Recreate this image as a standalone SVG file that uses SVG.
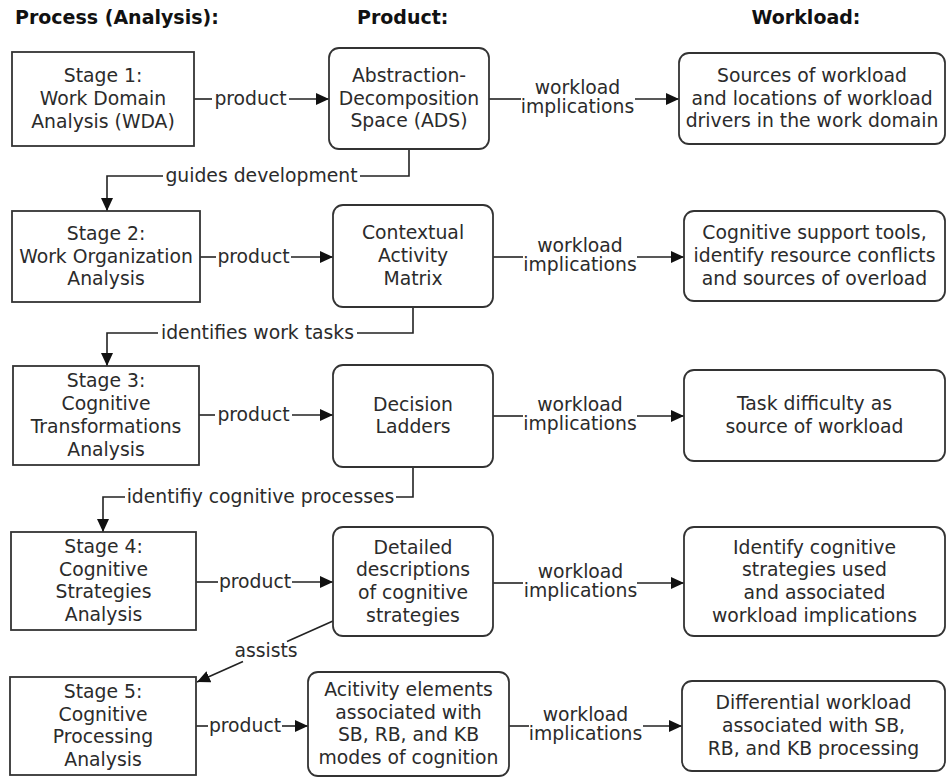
<svg xmlns="http://www.w3.org/2000/svg" width="948" height="777" viewBox="0 0 948 777">
<style>
text{font-family:"DejaVu Sans","Verdana",sans-serif;font-size:18.8px;fill:#2b2b2b}
.h{font-weight:bold;font-size:19px;fill:#111}
.c{text-anchor:middle}
.box{fill:#fff;stroke:#333;stroke-width:1.8}
.ln{fill:none;stroke:#222;stroke-width:1.6}
.ar{marker-end:url(#ah)}
</style>
<defs>
<marker id="ah" markerUnits="userSpaceOnUse" markerWidth="14" markerHeight="13" refX="13" refY="6.5" orient="auto">
<path d="M0,0.5 L13,6.5 L0,12.5 z" fill="#111"/>
</marker>
</defs>
<rect width="948" height="777" fill="#fff"/>
<g id="headers">
<text class="h" x="15" y="24">Process (Analysis):</text>
<text class="h" x="357" y="24">Product:</text>
<text class="h c" x="806" y="24">Workload:</text>
</g>
<g id="connectors">
<path class="ln" d="M194,99 H212"/><path class="ln ar" d="M289,99 H329"/>
<text class="c" x="250.5" y="105">product</text>
<path class="ln" d="M200,257 H216"/><path class="ln ar" d="M291,257 H333"/>
<text class="c" x="253.5" y="263">product</text>
<path class="ln" d="M199,415 H215"/><path class="ln ar" d="M292,415 H333"/>
<text class="c" x="253.5" y="421">product</text>
<path class="ln" d="M196,582 H218"/><path class="ln ar" d="M292,582 H333"/>
<text class="c" x="255" y="588">product</text>
<path class="ln" d="M196,726 H208"/><path class="ln ar" d="M282,726 H308"/>
<text class="c" x="245" y="732">product</text>
<path class="ln" d="M489,99 H521"/><path class="ln ar" d="M635,99 H679"/>
<text class="c" x="577.5" y="94">workload</text><text class="c" x="577.5" y="113">implications</text>
<path class="ln" d="M493,257 H523"/><path class="ln ar" d="M637,257 H684"/>
<text class="c" x="580" y="252">workload</text><text class="c" x="580" y="271">implications</text>
<path class="ln" d="M493,416 H523"/><path class="ln ar" d="M637,416 H684"/>
<text class="c" x="580" y="411">workload</text><text class="c" x="580" y="430">implications</text>
<path class="ln" d="M493,583 H523"/><path class="ln ar" d="M637,583 H684"/>
<text class="c" x="580.5" y="578">workload</text><text class="c" x="580.5" y="597">implications</text>
<path class="ln" d="M509,726 H529"/><path class="ln ar" d="M643,726 H682"/>
<text class="c" x="585.5" y="721">workload</text><text class="c" x="585.5" y="740">implications</text>
<path class="ln" d="M409,149 V176 H360"/><path class="ln ar" d="M163,176 H107 V211"/>
<text class="c" x="261.5" y="182">guides development</text>
<path class="ln" d="M413,307 V333 H357"/><path class="ln ar" d="M158,333 H107 V366"/>
<text class="c" x="257.5" y="339">identifies work tasks</text>
<path class="ln" d="M413,467 V497 H396"/><path class="ln ar" d="M125,497 H103 V532"/>
<text class="c" x="260.5" y="503">identifiy cognitive processes</text>
<path class="ln" d="M333,621 L287,641.6"/><path class="ln ar" d="M243,661.4 L197,682"/>
<text class="c" x="266" y="657">assists</text>
</g>
<g id="stage1"><rect class="box" x="12" y="52" width="182" height="94"/>
<text class="c" x="103" y="82.3">Stage 1:</text><text class="c" x="103" y="105">Work Domain</text><text class="c" x="103" y="127.7">Analysis (WDA)</text></g>
<g id="stage2"><rect class="box" x="12" y="211" width="188" height="91"/>
<text class="c" x="106" y="239.8">Stage 2:</text><text class="c" x="106" y="262.5">Work Organization</text><text class="c" x="106" y="285.2">Analysis</text></g>
<g id="stage3"><rect class="box" x="13" y="366" width="186" height="99"/>
<text class="c" x="106" y="387.4">Stage 3:</text><text class="c" x="106" y="410.1">Cognitive</text><text class="c" x="106" y="432.8">Transformations</text><text class="c" x="106" y="455.5">Analysis</text></g>
<g id="stage4"><rect class="box" x="11" y="532" width="185" height="98"/>
<text class="c" x="103.5" y="553">Stage 4:</text><text class="c" x="103.5" y="575.7">Cognitive</text><text class="c" x="103.5" y="598.4">Strategies</text><text class="c" x="103.5" y="621">Analysis</text></g>
<g id="stage5"><rect class="box" x="10" y="677" width="186" height="98"/>
<text class="c" x="103" y="698">Stage 5:</text><text class="c" x="103" y="720.7">Cognitive</text><text class="c" x="103" y="743.4">Processing</text><text class="c" x="103" y="766">Analysis</text></g>
<g id="ads"><rect class="box" x="329" y="48" width="160" height="101" rx="10"/>
<text class="c" x="409" y="81.8">Abstraction-</text><text class="c" x="409" y="104.5">Decomposition</text><text class="c" x="409" y="127.2">Space (ADS)</text></g>
<g id="cam"><rect class="box" x="333" y="205" width="160" height="102" rx="10"/>
<text class="c" x="413" y="239.3">Contextual</text><text class="c" x="413" y="262">Activity</text><text class="c" x="413" y="284.7">Matrix</text></g>
<g id="dl"><rect class="box" x="333" y="365" width="160" height="102" rx="10"/>
<text class="c" x="413" y="410.6">Decision</text><text class="c" x="413" y="433.4">Ladders</text></g>
<g id="dd"><rect class="box" x="333" y="527" width="160" height="109" rx="10"/>
<text class="c" x="413" y="553.5">Detailed</text><text class="c" x="413" y="576.2">descriptions</text><text class="c" x="413" y="598.9">of cognitive</text><text class="c" x="413" y="621.6">strategies</text></g>
<g id="ae"><rect class="box" x="308" y="672" width="201" height="104" rx="10"/>
<text class="c" x="408.5" y="696">Acitivity elements</text><text class="c" x="408.5" y="718.7">associated with</text><text class="c" x="408.5" y="741.4">SB, RB, and KB</text><text class="c" x="408.5" y="764">modes of cognition</text></g>
<g id="w1"><rect class="box" x="679" y="53" width="266" height="91" rx="10"/>
<text class="c" x="812" y="81.8">Sources of workload</text><text class="c" x="812" y="104.5">and locations of workload</text><text class="c" x="812" y="127.2">drivers in the work domain</text></g>
<g id="w2"><rect class="box" x="684" y="211" width="261" height="90" rx="10"/>
<text class="c" x="814.5" y="239.3">Cognitive support tools,</text><text class="c" x="814.5" y="262">identify resource conflicts</text><text class="c" x="814.5" y="284.7">and sources of overload</text></g>
<g id="w3"><rect class="box" x="684" y="370" width="261" height="91" rx="10"/>
<text class="c" x="814.5" y="410.2">Task difficulty as</text><text class="c" x="814.5" y="432.9">source of workload</text></g>
<g id="w4"><rect class="box" x="684" y="527" width="261" height="109" rx="10"/>
<text class="c" x="814.5" y="553.5">Identify cognitive</text><text class="c" x="814.5" y="576.2">strategies used</text><text class="c" x="814.5" y="598.9">and associated</text><text class="c" x="814.5" y="621.6">workload implications</text></g>
<g id="w5"><rect class="box" x="682" y="681" width="263" height="90" rx="10"/>
<text class="c" x="813.5" y="709.3">Differential workload</text><text class="c" x="813.5" y="732">associated with SB,</text><text class="c" x="813.5" y="754.7">RB, and KB processing</text></g>
</svg>
